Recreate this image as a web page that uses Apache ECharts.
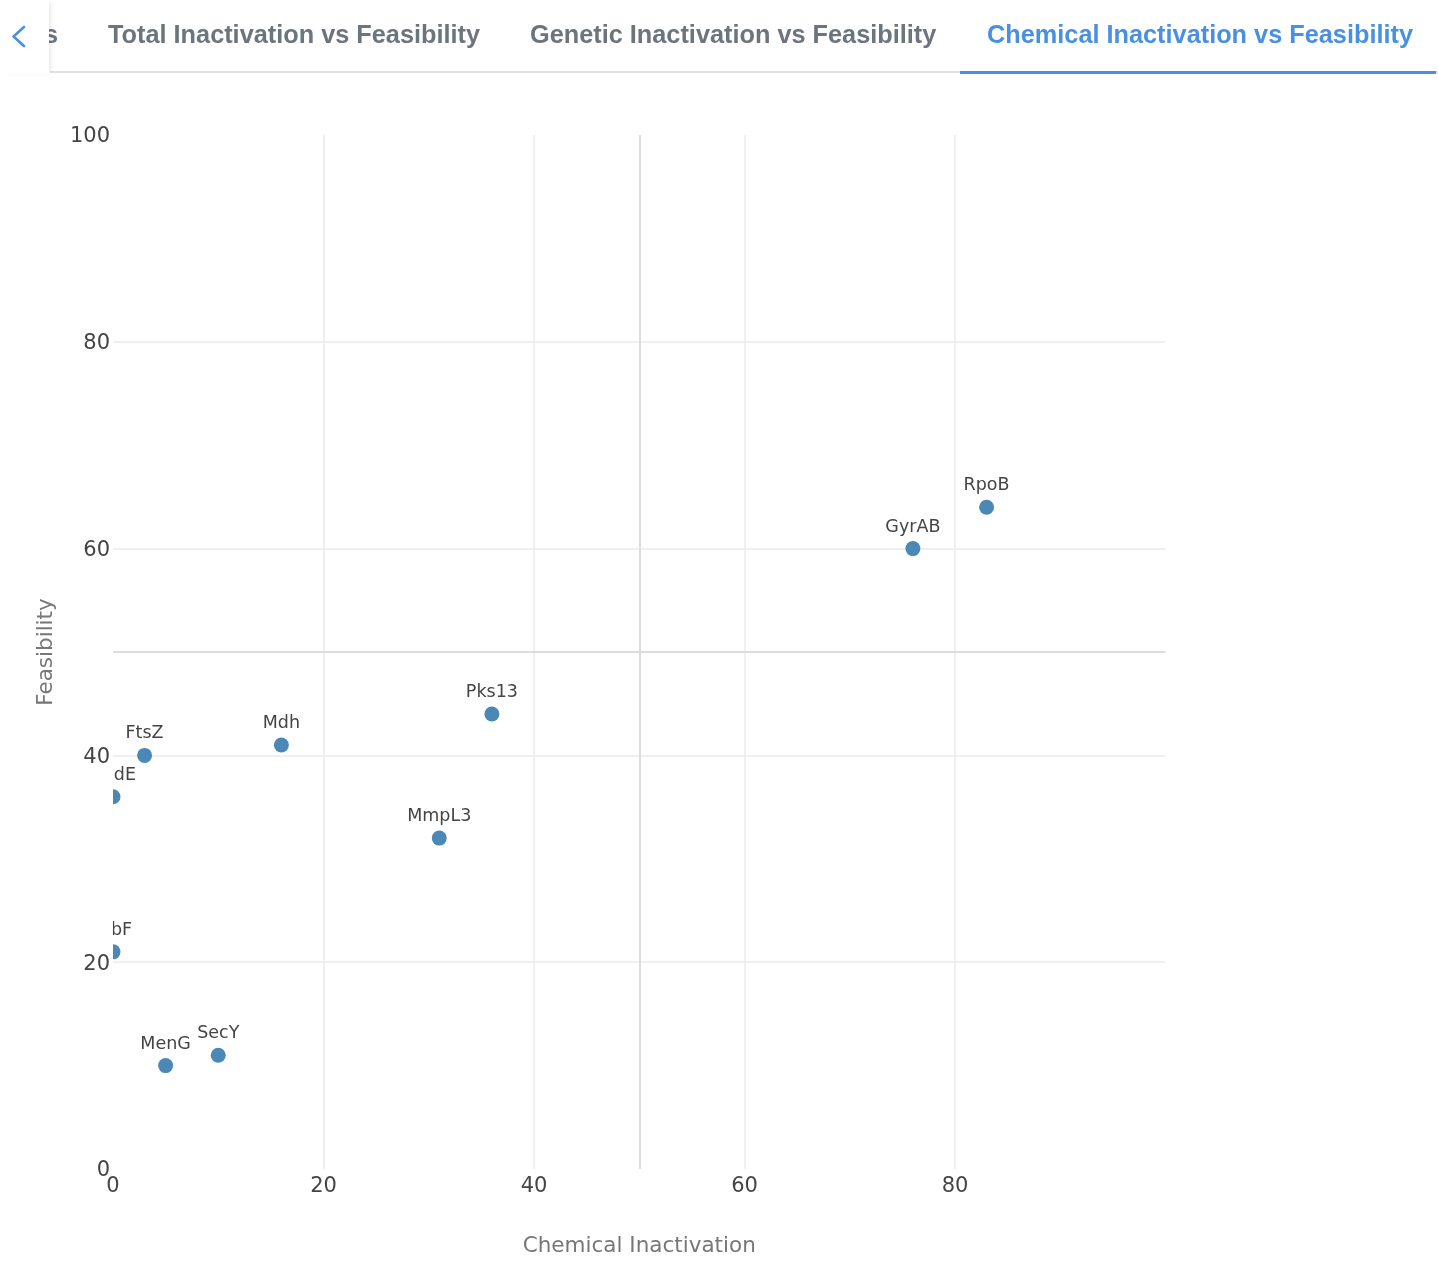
<!DOCTYPE html>
<html>
<head>
<meta charset="utf-8">
<script src="https://cdn.jsdelivr.net/npm/echarts@6/dist/echarts.min.js"></script>
<style>
  html, body { margin: 0; padding: 0; background: #fff; }
  #wrap { position: relative; width: 1438px; height: 1284px; overflow: hidden; }
  #chart { position: absolute; left: 0; top: 0; width: 1438px; height: 1284px; }
  .tab { position: absolute; top: 22px; font-family: "Liberation Sans", Arial, sans-serif; font-weight: bold; font-size: 25.3px; line-height: 25px; color: #6c757d; white-space: nowrap; }
  .tab.active { color: #4a90e2; }
  #baseline { position: absolute; left: 50px; top: 71px; width: 1388px; height: 2px; background: #dee2e6; }
  #activeLine { position: absolute; left: 960px; top: 71px; width: 476px; height: 3px; background: #4a90e2; }
  #leftPanel { position: absolute; left: 0; top: 0; width: 49px; height: 74px; background: #fff; box-shadow: 3px 0 5px -2px rgba(0,0,0,0.12); z-index: 5; }
</style>
</head>
<body>
<div id="wrap">
  <div id="chart"></div>
  <div id="baseline"></div>
  <div id="activeLine"></div>
  <div class="tab" style="left:44px;">s</div>
  <div class="tab" style="left:108px;">Total Inactivation vs Feasibility</div>
  <div class="tab" style="left:530px;">Genetic Inactivation vs Feasibility</div>
  <div class="tab active" style="left:987px;">Chemical Inactivation vs Feasibility</div>
  <div id="leftPanel">
    <svg width="49" height="74" style="position:absolute;left:0;top:0">
      <path d="M24 27 L13.5 36.5 L24 46" fill="none" stroke="#4a90e2" stroke-width="2.6" stroke-linecap="round" stroke-linejoin="round"/>
    </svg>
  </div>
</div>
<script>
// ---- data ----
const targets     = ['RpoB', 'GyrAB', 'Pks13', 'Mdh', 'FtsZ', 'NadE', 'MmpL3', 'RibF', 'MenG', 'SecY'];
const chemical    = [83, 76, 36, 16, 3, 0, 31, 0, 5, 10];
const feasibility = [64, 60, 44, 41, 40, 36, 32, 21, 10, 11];
const axisTicks   = [0, 20, 40, 60, 80, 100];
const quadrantX   = 50;
const quadrantY   = 50;

const points = targets.map((n, i) => ({ name: n, value: [chemical[i], feasibility[i]] }));

const FONT = 'DejaVu Sans';
const chart = echarts.init(document.getElementById('chart'), null, { renderer: 'canvas' });

const option = {
  animation: false,
  backgroundColor: '#fff',
  grid: { left: 113, right: 272.5, top: 135, bottom: 115, containLabel: false },
  xAxis: {
    type: 'value',
    min: axisTicks[0], max: axisTicks[axisTicks.length - 1], interval: 20,
    name: 'Chemical Inactivation',
    nameLocation: 'middle', nameGap: 66,
    nameTextStyle: { color: '#777', fontSize: 21.5, fontFamily: FONT },
    axisLine: { show: false }, axisTick: { show: false },
    axisLabel: { color: '#444', fontSize: 21, fontFamily: FONT, margin: 7, showMaxLabel: false },
    splitLine: { show: true, showMinLine: false, showMaxLine: false, lineStyle: { color: '#ebebeb', width: 1.5 } }
  },
  yAxis: [
    {
      type: 'value', z: 10,
      min: axisTicks[0], max: axisTicks[axisTicks.length - 1], interval: 20,
      name: 'Feasibility',
      nameLocation: 'middle', nameGap: 56, nameRotate: 90,
      nameTextStyle: { color: '#777', fontSize: 21.5, fontFamily: FONT },
      axisLine: { show: false }, axisTick: { show: false },
      axisLabel: {
        fontSize: 21, margin: 3,
        formatter: '{t|{value}}',
        rich: { t: { color: '#444', fontSize: 21, fontFamily: FONT, padding: [4, 0, 0, 0] } }
      },
      splitLine: { show: false }
    },
    {
      type: 'value', z: 0,
      min: axisTicks[0], max: axisTicks[axisTicks.length - 1], interval: 20,
      axisLine: { show: false }, axisTick: { show: false }, axisLabel: { show: false },
      splitLine: { show: true, showMinLine: false, showMaxLine: false, lineStyle: { color: '#ebebeb', width: 1.5 } }
    }
  ],
  graphic: {
    elements: [{
      type: 'rect', z: 5, silent: true,
      shape: { x: 0, y: 95, width: 113, height: 1074 },
      style: { fill: '#fff' }
    }]
  },
  series: [{
    type: 'scatter',
    yAxisIndex: 0,
    data: points,
    symbol: 'circle',
    symbolSize: 15,
    itemStyle: { color: '#4b88b5', opacity: 1 },
    label: {
      show: true, position: 'top', distance: 5,
      formatter: '{b}', color: '#444', fontSize: 17.5, fontFamily: FONT
    },
    markLine: {
      silent: true, symbol: 'none', animation: false,
      label: { show: false },
      lineStyle: { color: '#dcdcdc', width: 2, type: 'solid' },
      data: [{ xAxis: quadrantX }, { yAxis: quadrantY }]
    },
    z: 2
  }]
};
chart.setOption(option);
</script>
</body>
</html>
